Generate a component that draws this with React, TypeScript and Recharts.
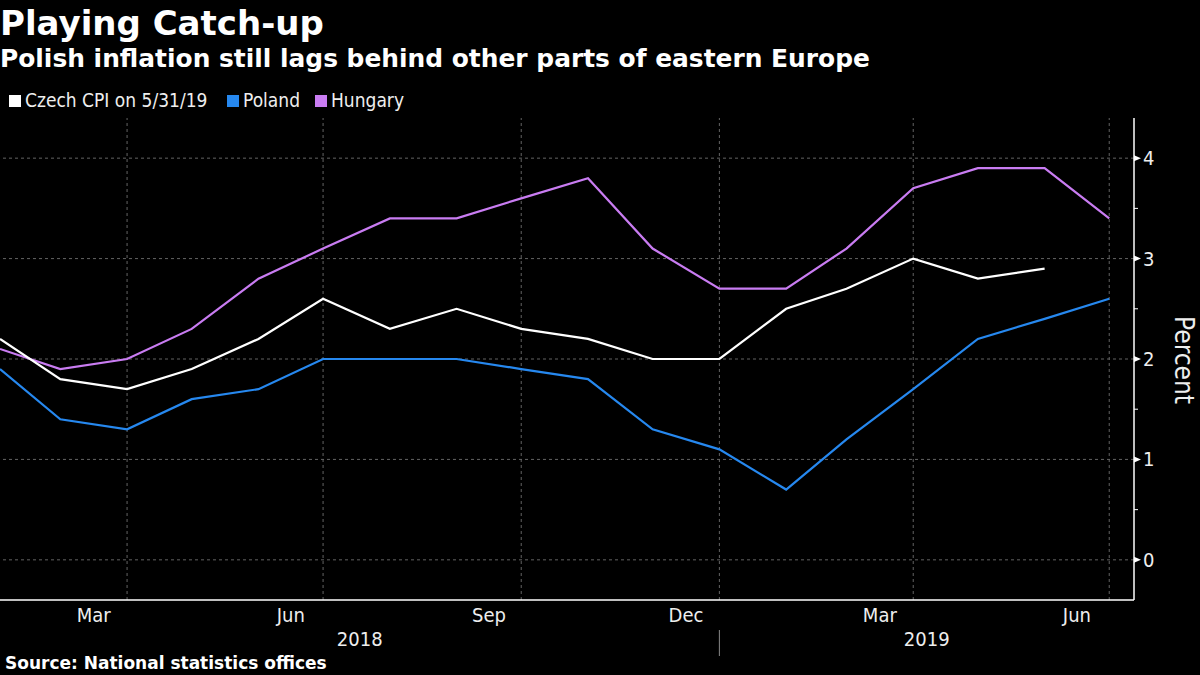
import { LineChart, Line, XAxis, YAxis, ReferenceLine } from "recharts";

// month-end observations
const months = [
  "2018-01-31", "2018-02-28", "2018-03-31", "2018-04-30", "2018-05-31", "2018-06-30",
  "2018-07-31", "2018-08-31", "2018-09-30", "2018-10-31", "2018-11-30", "2018-12-31",
  "2019-01-31", "2019-02-28", "2019-03-31", "2019-04-30", "2019-05-31", "2019-06-30",
];
const czech = [2.2, 1.8, 1.7, 1.9, 2.2, 2.6, 2.3, 2.5, 2.3, 2.2, 2.0, 2.0, 2.5, 2.7, 3.0, 2.8, 2.9, null];
const poland = [1.9, 1.4, 1.3, 1.6, 1.7, 2.0, 2.0, 2.0, 1.9, 1.8, 1.3, 1.1, 0.7, 1.2, 1.7, 2.2, 2.4, 2.6];
const hungary = [2.1, 1.9, 2.0, 2.3, 2.8, 3.1, 3.4, 3.4, 3.6, 3.8, 3.1, 2.7, 2.7, 3.1, 3.7, 3.9, 3.9, 3.4];

const quarterMonths = ["2018-03-31", "2018-06-30", "2018-09-30", "2018-12-31", "2019-03-31", "2019-06-30"];
const quarterLabels = ["Mar", "Jun", "Sep", "Dec", "Mar", "Jun"];
const yearLabels = ["2018", "2019"];
const yearBreak = "2018-12-31";
const yTicks = [0, 1, 2, 3, 4];
const yMinorTicks = [0.5, 1.5, 2.5, 3.5];

const seriesNames = ["Czech CPI on 5/31/19", "Poland", "Hungary"];
const COLORS = ["#ffffff", "#2688ef", "#c97cf2"];
const FONT = "'DejaVu Sans Condensed', 'DejaVu Sans', sans-serif";
const BOLD_FONT = "'DejaVu Sans', sans-serif";
const GRID = "#636363";

const DAY = 86400000;
const t = (d: string) => Date.parse(d);
const xStart = t(months[0]);
const xEnd = xStart + 526.5 * DAY;

const data = months.map((m, i) => ({
  x: t(m),
  czech: czech[i],
  poland: poland[i],
  hungary: hungary[i],
}));

// labels sit in the middle of their month
const quarterMid = quarterMonths.map((q) => {
  const i = months.indexOf(q);
  return (t(months[i - 1]) + t(q)) / 2;
});
const yearTicks = [(xStart + t(yearBreak)) / 2, t(yearBreak), (t(yearBreak) + xEnd) / 2];

const textStyle = { fontFamily: FONT, fontStretch: "condensed" as const };
const boldStyle = { fontFamily: BOLD_FONT, fontWeight: 700 };

const QuarterTick = (props: any) => {
  const { x, y, index } = props;
  return (
    <text x={x} y={y + 18} textAnchor="middle" fill="#eeeeee" fontSize={20} style={textStyle}>
      {quarterLabels[index]}
    </text>
  );
};

const YearTick = (props: any) => {
  const { x, y, index } = props;
  if (index === 1) {
    return <line x1={x} x2={x} y1={y - 4} y2={y + 22} stroke="#888888" strokeWidth={1} />;
  }
  return (
    <text x={x} y={y + 12} textAnchor="middle" fill="#eeeeee" fontSize={20} style={textStyle}>
      {yearLabels[index === 0 ? 0 : 1]}
    </text>
  );
};

const ValueTick = (props: any) => {
  const { x, y, payload } = props;
  const v = payload.value;
  if (!yTicks.includes(v)) {
    return <line x1={x} x2={x + 4} y1={y} y2={y} stroke="#ffffff" strokeWidth={1} />;
  }
  return (
    <g>
      <polygon points={`${x},${y - 3} ${x + 7},${y} ${x},${y + 3}`} fill="#ffffff" />
      <text x={x + 9} y={y + 7} fill="#eeeeee" fontSize={20} style={textStyle}>
        {v}
      </text>
    </g>
  );
};

const legendX = [9, 227, 315];

export default function App() {
  return (
    <div style={{ position: "absolute", left: 0, top: 0, width: 1200, height: 675, background: "#000000" }}>
      <LineChart width={1200} height={675} data={data} margin={{ top: 118, right: 0, bottom: 0, left: 0 }}>
        <XAxis
          xAxisId="m"
          dataKey="x"
          type="number"
          scale="linear"
          domain={[xStart, xEnd]}
          allowDataOverflow
          ticks={months.map(t)}
          interval={0}
          tick={false}
          tickSize={4}
          height={4}
          axisLine={{ stroke: "#ffffff", strokeWidth: 1.5 }}
          tickLine={{ stroke: "#ffffff" }}
        />
        <XAxis
          xAxisId="q"
          dataKey="x"
          type="number"
          scale="linear"
          domain={[xStart, xEnd]}
          allowDataOverflow
          ticks={quarterMid}
          interval={0}
          tick={<QuarterTick />}
          tickSize={0}
          tickMargin={0}
          height={30}
          axisLine={false}
          tickLine={false}
        />
        <XAxis
          xAxisId="yr"
          dataKey="x"
          type="number"
          scale="linear"
          domain={[xStart, xEnd]}
          allowDataOverflow
          ticks={yearTicks}
          interval={0}
          tick={<YearTick />}
          tickSize={0}
          tickMargin={0}
          height={41}
          axisLine={false}
          tickLine={false}
        />
        <YAxis
          orientation="right"
          domain={[-0.4, 4.4]}
          ticks={[...yTicks, ...yMinorTicks].sort((a, b) => a - b)}
          interval={0}
          width={66}
          tickSize={0}
          tickMargin={0}
          tick={<ValueTick />}
          axisLine={{ stroke: "#ffffff", strokeWidth: 1.5 }}
          tickLine={false}
        />
        {yTicks.map((v) => (
          <ReferenceLine key={"h" + v} xAxisId="m" y={v} stroke={GRID} strokeDasharray="3 3" />
        ))}
        {quarterMonths.map((q) => (
          <ReferenceLine key={"v" + q} xAxisId="m" x={t(q)} stroke={GRID} strokeDasharray="3 3" />
        ))}
        <Line xAxisId="m" dataKey="hungary" stroke={COLORS[2]} strokeWidth={2.2} dot={false} isAnimationActive={false} />
        <Line xAxisId="m" dataKey="poland" stroke={COLORS[1]} strokeWidth={2.2} dot={false} isAnimationActive={false} />
        <Line xAxisId="m" dataKey="czech" stroke={COLORS[0]} strokeWidth={2.2} dot={false} isAnimationActive={false} />
      </LineChart>
      <svg width={1200} height={675} style={{ position: "absolute", left: 0, top: 0, pointerEvents: "none" }}>
        <text x={0} y={35} fill="#ffffff" fontSize={34} style={boldStyle}>
          Playing Catch-up
        </text>
        <text x={0} y={67} fill="#ffffff" fontSize={24.9} style={boldStyle}>
          Polish inflation still lags behind other parts of eastern Europe
        </text>
        {seriesNames.map((name, i) => (
          <g key={name}>
            <rect x={legendX[i]} y={95} width={12} height={12} fill={COLORS[i]} />
            <text x={legendX[i] + 16} y={107} fill="#eeeeee" fontSize={19} style={textStyle}>
              {name}
            </text>
          </g>
        ))}
        <text x={5} y={669} fill="#ffffff" fontSize={17} style={boldStyle}>
          Source: National statistics offices
        </text>
        <text
          transform="translate(1175,360) rotate(90)"
          textAnchor="middle"
          fill="#eeeeee"
          fontSize={26}
          style={textStyle}
        >
          Percent
        </text>
      </svg>
    </div>
  );
}
